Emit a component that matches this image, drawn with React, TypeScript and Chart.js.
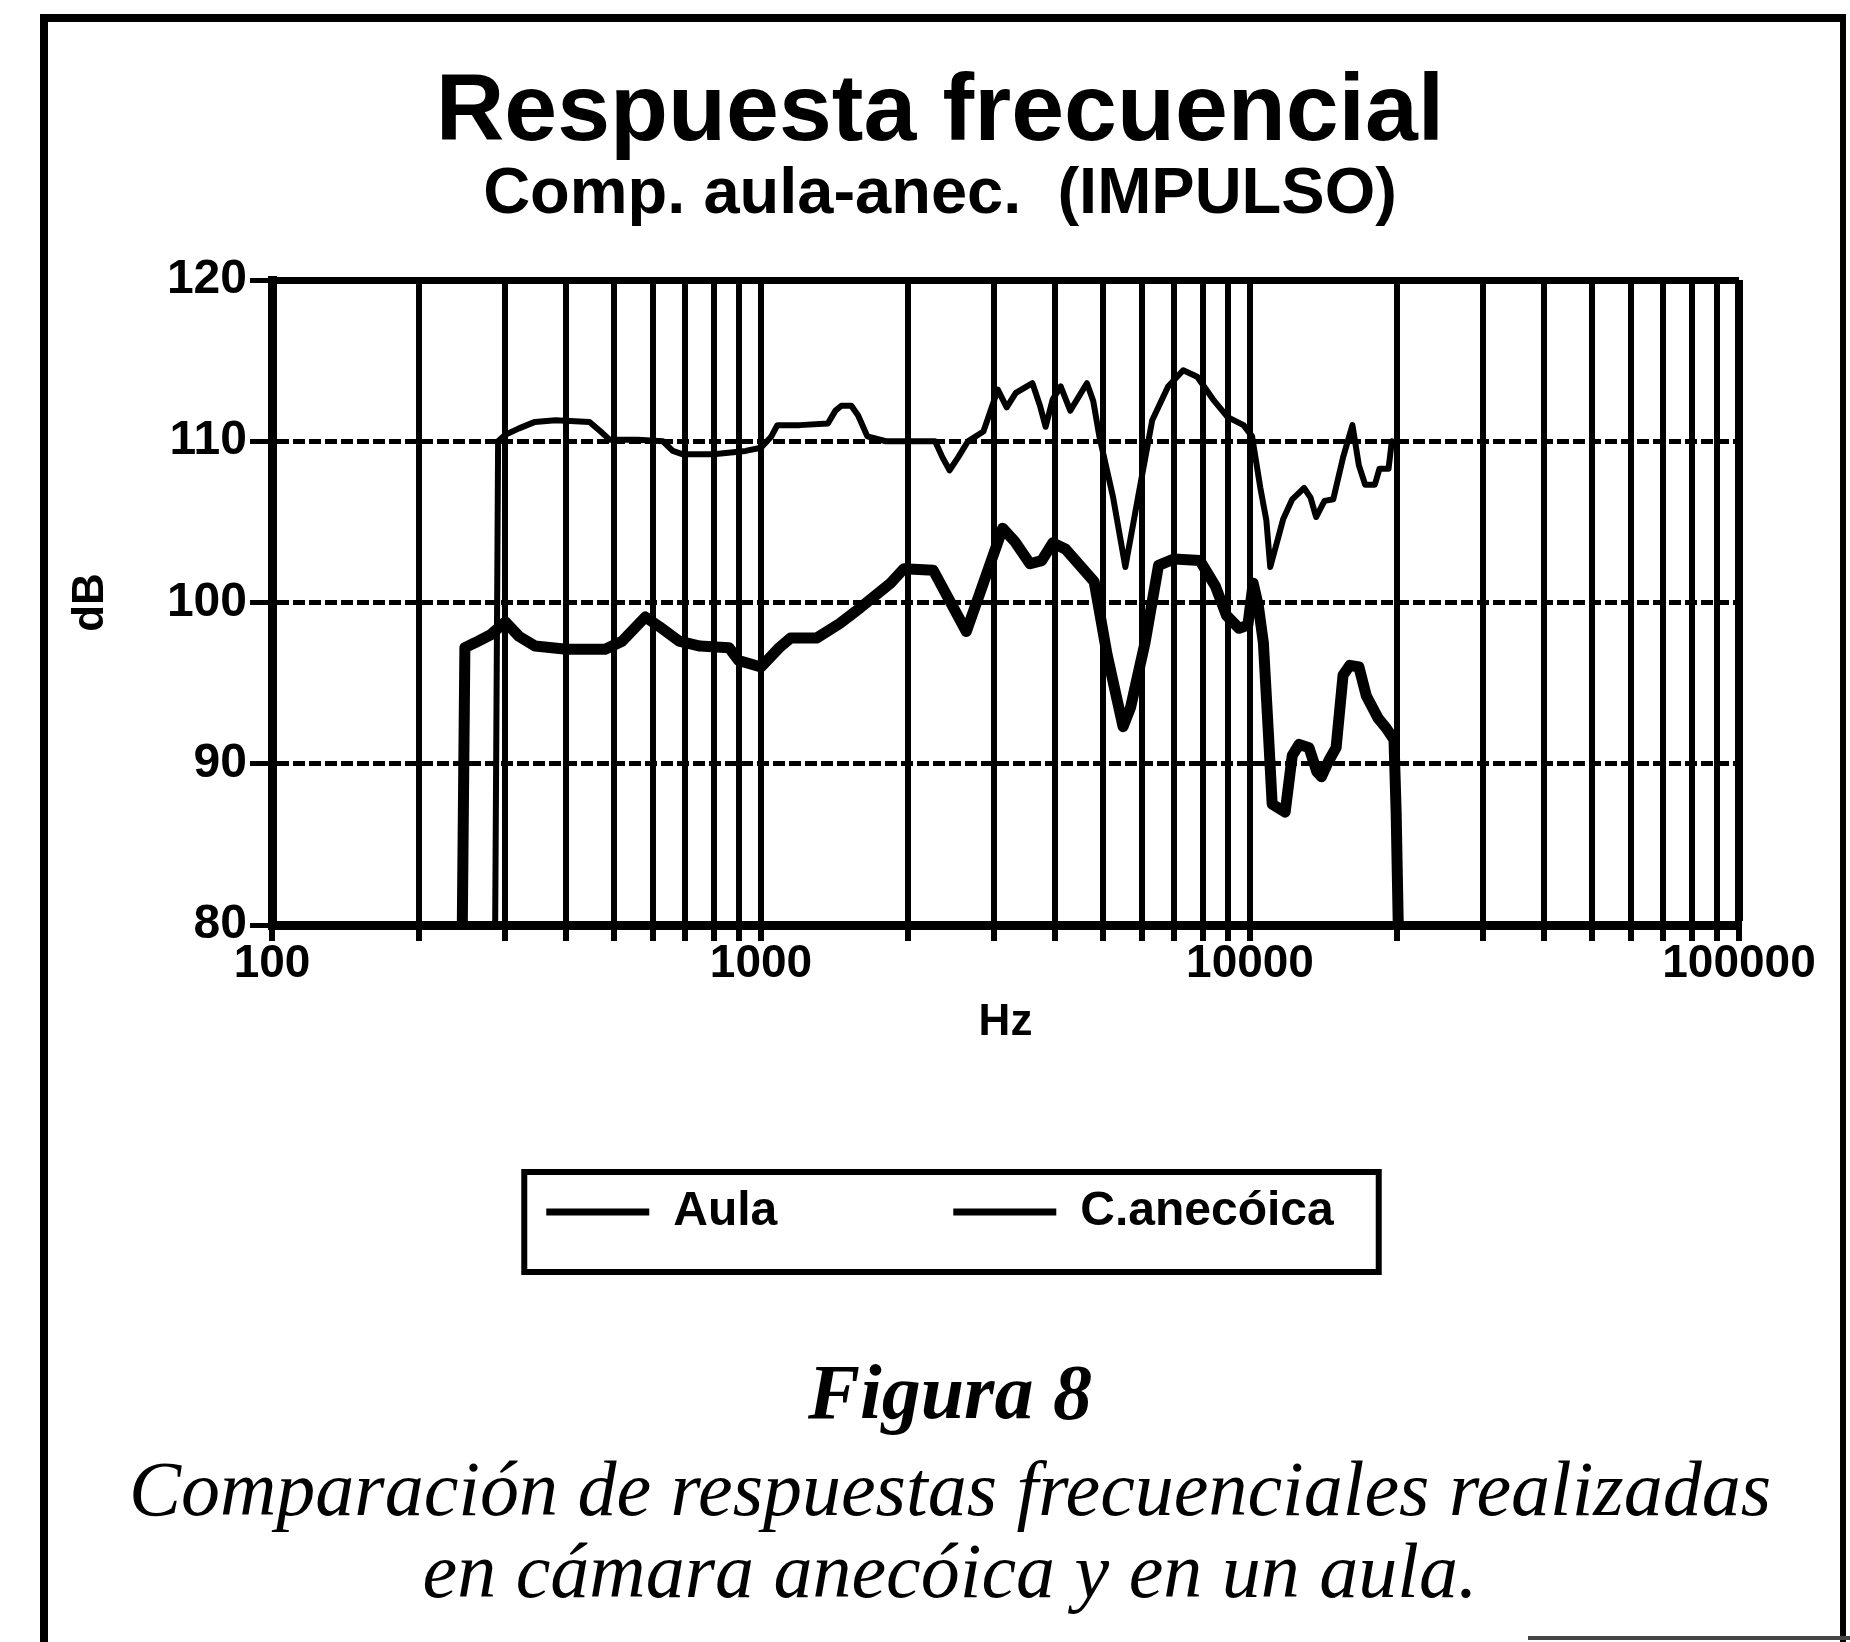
import React, { useEffect, useRef } from 'react';
import { Chart, registerables } from 'chart.js';

Chart.register(...registerables);

const TITLE = 'Respuesta frecuencial';
const SUBTITLE = 'Comp. aula-anec.  (IMPULSO)';
const X_TITLE = 'Hz';
const Y_TITLE = 'dB';
const SERIES_NAMES = ['Aula', 'C.anecóica'];
const CAPTION_TITLE = 'Figura 8';
const CAPTION_LINES = [
  'Comparación de respuestas frecuenciales realizadas',
  'en cámara anecóica y en un aula.',
];

const xGridTicks = [
  100, 200, 300, 400, 500, 600, 700, 800, 900,
  1000, 2000, 3000, 4000, 5000, 6000, 7000, 8000, 9000,
  10000, 20000, 30000, 40000, 50000, 60000, 70000, 80000, 90000,
  100000,
];
const xLabelTicks = [100, 1000, 10000, 100000];
const yTicks = [80, 90, 100, 110, 120];

const aulaFreq = [
  286, 290, 300, 320, 345, 380, 446, 470, 490, 560,
  630, 660, 690, 800, 930, 1000, 1050, 1080, 1200, 1370,
  1420, 1460, 1530, 1580, 1650, 1800, 2100, 2270, 2350, 2430,
  2530, 2650, 2850, 3050, 3180, 3320, 3590, 3720, 3820, 3950,
  4100, 4290, 4640, 4780, 4920, 5250, 5560, 5900, 6310, 6800,
  7300, 7800, 8400, 9000, 9700, 10100, 10500, 10800, 11000, 11300,
  11700, 12200, 12900, 13300, 13650, 14200, 14800, 15500, 16200, 16700,
  17200, 18000, 18400, 19200, 19500,
];
const aulaDb = [
  80, 110.0, 110.4, 110.8, 111.2, 111.3, 111.2, 110.6, 110.1, 110.1,
  110.0, 109.4, 109.2, 109.2, 109.4, 109.6, 110.3, 111.0, 111.0, 111.1,
  111.9, 112.2, 112.2, 111.6, 110.3, 110.0, 110.0, 110.0, 109.0, 108.2,
  109.0, 110.0, 110.6, 113.2, 112.1, 113.0, 113.6, 112.2, 110.9, 112.6,
  113.4, 111.9, 113.6, 112.5, 110.3, 106.5, 102.2, 106.5, 111.3, 113.4,
  114.4, 114.0, 112.6, 111.5, 111.0, 110.3, 107.1, 105.1, 102.2, 103.5,
  105.2, 106.4, 107.1, 106.5, 105.3, 106.3, 106.4, 109.0, 111.0, 108.5,
  107.3, 107.3, 108.3, 108.3, 110.0,
];

const anecFreq = [
  245, 248, 260, 280, 300, 320, 345, 400, 480, 520,
  580, 620, 680, 750, 860, 900, 1000, 1090, 1150, 1300,
  1450, 1600, 1840, 1960, 2250, 2630, 3120, 3300, 3550, 3750,
  3950, 4200, 4800, 5100, 5500, 5700, 6100, 6500, 7000, 7900,
  8500, 8950, 9500, 9900, 10150, 10400, 10650, 10900, 11100, 11800,
  12200, 12600, 13200, 13700, 14000, 14500, 15000, 15500, 16000, 16700,
  17300, 18300, 19000, 19700, 19900, 20100,
];
const anecDb = [
  80, 97.2, 97.5, 98.0, 98.8, 97.9, 97.3, 97.1, 97.1, 97.6,
  99.1, 98.5, 97.6, 97.3, 97.2, 96.4, 96.0, 97.2, 97.8, 97.8,
  98.7, 99.7, 101.2, 102.1, 102.0, 98.2, 104.6, 103.8, 102.4, 102.6,
  103.7, 103.3, 101.3, 96.8, 92.3, 93.5, 97.5, 102.3, 102.7, 102.6,
  101.0, 99.2, 98.4, 98.6, 101.2, 99.8, 97.5, 92.0, 87.5, 87.0,
  90.5, 91.2, 91.0, 89.5, 89.2, 90.2, 91.0, 95.5, 96.1, 96.0,
  94.2, 92.8, 92.2, 91.5, 87.0, 80,
];

const SANS = "'Liberation Sans', Arial, Helvetica, sans-serif";
const SERIF = "'Liberation Serif', 'Times New Roman', serif";

export default function App() {
  const canvasRef = useRef<HTMLCanvasElement | null>(null);

  useEffect(() => {
    const canvas = canvasRef.current;
    if (!canvas) return;
    Chart.defaults.font.family = SANS;
    Chart.defaults.color = '#000';

    const legendBox = {
      id: 'legendBox',
      afterDraw(chart: any) {
        const lg = chart.legend;
        if (!lg || !lg.legendHitBoxes || !lg.legendHitBoxes.length) return;
        const hb = lg.legendHitBoxes;
        const first = hb[0];
        const last = hb[hb.length - 1];
        const cy = first.top + first.height / 2;
        const ctx = chart.ctx;
        ctx.save();
        ctx.lineWidth = 6;
        ctx.strokeStyle = '#000';
        const l = first.left - 22;
        const r = last.left + last.width + 45;
        ctx.strokeRect(l, cy - 40, r - l, 100);
        ctx.restore();
      },
    };

    const chart = new Chart(canvas, {
      type: 'line',
      data: {
        datasets: [
          {
            label: SERIES_NAMES[0],
            data: aulaFreq.map((f, i) => ({ x: f, y: aulaDb[i] })),
            borderColor: '#000',
            backgroundColor: '#000',
            borderWidth: 6,
            pointRadius: 0,
            tension: 0,
            borderJoinStyle: 'round',
            borderCapStyle: 'round',
          },
          {
            label: SERIES_NAMES[1],
            data: anecFreq.map((f, i) => ({ x: f, y: anecDb[i] })),
            borderColor: '#000',
            backgroundColor: '#000',
            borderWidth: 11,
            pointRadius: 0,
            tension: 0,
            borderJoinStyle: 'round',
            borderCapStyle: 'round',
          },
        ],
      },
      options: {
        responsive: false,
        animation: false,
        devicePixelRatio: 1,
        layout: { padding: { left: 0, right: 0, top: 0, bottom: 34 } },
        plugins: {
          title: {
            display: true,
            text: TITLE,
            color: '#000',
            font: { family: SANS, size: 95, weight: 'bold', lineHeight: 1 },
            padding: { top: 46, bottom: 0 },
          },
          subtitle: {
            display: true,
            text: SUBTITLE,
            color: '#000',
            font: { family: SANS, size: 65, weight: 'bold', lineHeight: 1 },
            padding: { top: 2, bottom: 52 },
          },
          legend: {
            position: 'bottom',
            labels: {
              boxWidth: 103,
              boxHeight: 7,
              padding: 176,
              color: '#000',
              font: { family: SANS, size: 48, weight: 'bold', lineHeight: 1 },
              generateLabels: (ch: any) =>
                ch.data.datasets.map((ds: any, i: number) => ({
                  text: ds.label,
                  fillStyle: '#000',
                  strokeStyle: '#000',
                  lineWidth: 0,
                  hidden: false,
                  datasetIndex: i,
                })),
            },
          },
          tooltip: { enabled: false },
        },
        scales: {
          x: {
            type: 'logarithmic',
            min: 100,
            max: 100000,
            afterBuildTicks: (s: any) => {
              s.ticks = xGridTicks.map((v) => ({ value: v }));
            },
            afterFit: (s: any) => {
              s.height = 87;
              s.paddingRight = 93;
            },
            ticks: {
              autoSkip: false,
              maxRotation: 0,
              minRotation: 0,
              padding: 0,
              color: '#000',
              font: { family: SANS, size: 46, weight: 'bold', lineHeight: 1 },
              callback: (v: any) => (xLabelTicks.includes(Number(v)) ? String(v) : ''),
            },
            grid: {
              color: '#000',
              lineWidth: (ctx: any) => (ctx.tick && ctx.tick.value === 100000 ? 8 : 6),
              tickLength: 16,
              tickWidth: 6,
              tickColor: '#000',
            },
            border: { display: true, color: '#000', width: 9 },
            title: {
              display: true,
              text: X_TITLE,
              color: '#000',
              font: { family: SANS, size: 44, weight: 'bold', lineHeight: 1 },
              padding: { top: 0, bottom: -33 },
            },
          },
          y: {
            type: 'linear',
            min: 80,
            max: 120,
            afterBuildTicks: (s: any) => {
              s.ticks = yTicks.map((v) => ({ value: v }));
            },
            afterFit: (s: any) => {
              s.width = 224;
            },
            ticks: {
              padding: 3,
              color: '#000',
              font: { family: SANS, size: 48, weight: 'bold', lineHeight: 1 },
            },
            grid: {
              color: '#000',
              lineWidth: (ctx: any) => (ctx.tick && ctx.tick.value === 120 ? 7 : 5),
              tickLength: 22,
              tickWidth: 5,
              tickColor: '#000',
            },
            border: {
              display: true,
              color: '#000',
              width: 9,
              dash: (ctx: any) =>
                ctx.tick && (ctx.tick.value === 80 || ctx.tick.value === 120) ? [] : [12, 4],
            },
            title: {
              display: true,
              text: Y_TITLE,
              color: '#000',
              font: { family: SANS, size: 44, weight: 'bold', lineHeight: 1 },
              padding: { top: 21, bottom: 0 },
            },
          },
        },
      },
      plugins: [legendBox],
    } as any);

    return () => chart.destroy();
  }, []);

  return (
    <div
      style={{
        position: 'absolute',
        left: 0,
        top: 0,
        width: 1850,
        height: 1642,
        background: '#fff',
        overflow: 'hidden',
      }}
    >
      <div
        style={{
          position: 'absolute',
          left: 40,
          top: 14,
          width: 1806,
          height: 1700,
          boxSizing: 'border-box',
          borderLeft: '8px solid #000',
          borderTop: '8px solid #000',
          borderRight: '6px solid #000',
        }}
      />
      <canvas
        ref={canvasRef}
        width={1784}
        height={1260}
        style={{ position: 'absolute', left: 48, top: 20, width: 1784, height: 1260 }}
      />
      <div
        style={{
          position: 'absolute',
          left: 0,
          top: 1353,
          width: 1900,
          textAlign: 'center',
          font: `italic bold 78px/78px ${SERIF}`,
          color: '#000',
          whiteSpace: 'nowrap',
        }}
      >
        {CAPTION_TITLE}
      </div>
      <div
        style={{
          position: 'absolute',
          left: 0,
          top: 1448,
          width: 1900,
          textAlign: 'center',
          font: `italic 78px/82px ${SERIF}`,
          color: '#000',
          whiteSpace: 'nowrap',
        }}
      >
        {CAPTION_LINES[0]}
        <br />
        {CAPTION_LINES[1]}
      </div>
      <div
        style={{
          position: 'absolute',
          left: 1528,
          top: 1636,
          width: 322,
          height: 4,
          background: '#444',
        }}
      />
    </div>
  );
}
